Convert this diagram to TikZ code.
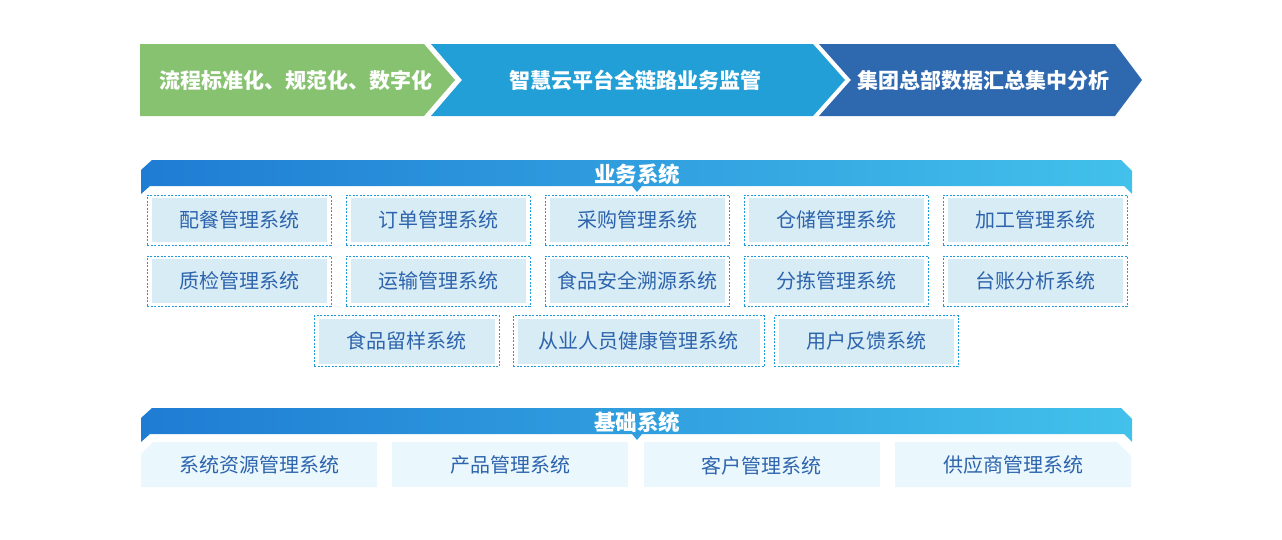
\documentclass[tikz,border=0pt]{standalone}
\usepackage{fontspec}
\newfontfamily\cjk{Noto Sans CJK SC}
\usetikzlibrary{positioning,shapes.misc}
\definecolor{flowgreen}{HTML}{87C271}
\definecolor{flowblue}{HTML}{239FD7}
\definecolor{flowdark}{HTML}{2E69B0}
\definecolor{bandleft}{HTML}{1F7CD3}
\definecolor{bandright}{HTML}{42C1EB}
\definecolor{dashblue}{HTML}{1F9BDB}
\definecolor{boxfill}{HTML}{D7ECF5}
\definecolor{basefill}{HTML}{EAF8FD}
\definecolor{sysblue}{HTML}{2D64AD}

\begin{document}
\begin{tikzpicture}[x=1pt, y=-1pt, node distance=14pt]
		 \tikzstyle{stage} = [font=\cjk\bfseries\fontsize{21}{21}\selectfont, text=white, inner sep=0pt];
		 \tikzstyle{bandtitle} = [font=\cjk\bfseries\fontsize{21.5}{21.5}\selectfont, text=white, inner sep=0pt];
		 \tikzstyle{sysbox} = [draw=dashblue, line width=1pt, dash pattern=on 2pt off 1.5pt,
		   minimum width=184pt, minimum height=50pt, inner sep=0pt,
		   path picture={\fill[boxfill] ([shift={(4.5pt,3pt)}]path picture bounding box.south west)
		     rectangle ([shift={(-4.5pt,-3pt)}]path picture bounding box.north east);},
		   font=\cjk\fontsize{20}{20}\selectfont, text=sysblue];
		 \tikzstyle{baseblock} = [fill=basefill, minimum width=236pt, minimum height=45pt, inner sep=0pt,
		   text depth=-3pt, font=\cjk\fontsize{20}{20}\selectfont, text=sysblue];

		 \useasboundingbox (0,0) rectangle (1282,539);

		 % flow chevrons
		 \fill [flowgreen] (140,44) -- (424,44) -- (455,80) -- (424,116) -- (140,116) -- cycle;
		 \fill [flowblue]  (431,44) -- (813,44) -- (845,80) -- (813,116) -- (431,116) -- (462,80) -- cycle;
		 \fill [flowdark]  (819,44) -- (1115,44) -- (1142,80) -- (1115,116) -- (819,116) -- (851,80) -- cycle;

		 \node [stage] (liucheng) at (296,80)  {流程标准化、规范化、数字化};
		 \node [stage] (zhihui)   at (635,80)  {智慧云平台全链路业务监管};
		 \node [stage] (jituan)   at (983,80)  {集团总部数据汇总集中分析};

		 % title bands
		 \foreach \yy in {0,248}
		   \shade [left color=bandleft, right color=bandright, shift={(0,\yy)}]
		     (152,160) -- (1121,160) -- (1132,171) -- (1132,194) -- (1124,186) -- (642,186) -- (637,192)
		     -- (632,186) -- (150,186) -- (141,194) -- (141,170) -- cycle;

		 \node [bandtitle] (yewu)  at (637,174) {业务系统};
		 \node [bandtitle] (jichu) at (637,422) {基础系统};

		 % business systems
		 \node [sysbox] (peican)                      at (239,220) {配餐管理系统};
		 \node [sysbox] (dingdan) [right=of peican]   {订单管理系统};
		 \node [sysbox] (caigou)  [right=of dingdan]  {采购管理系统};
		 \node [sysbox] (cangchu) [right=of caigou]   {仓储管理系统};
		 \node [sysbox] (jiagong) [right=of cangchu]  {加工管理系统};

		 \node [sysbox] (zhijian) [below=10pt of peican] {质检管理系统};
		 \node [sysbox] (yunshu)  [right=of zhijian]  {运输管理系统};
		 \node [sysbox] (suyuan)  [right=of yunshu]   {食品安全溯源系统};
		 \node [sysbox] (fenjian) [right=of suyuan]   {分拣管理系统};
		 \node [sysbox] (taizhang)[right=of fenjian]  {台账分析系统};

		 \node [sysbox, minimum width=251pt, minimum height=51pt] (congye) at (638.5,341) {从业人员健康管理系统};
		 \node [sysbox, minimum width=185pt, minimum height=51pt] (liuyang) [left=13pt of congye] {食品留样系统};
		 \node [sysbox, minimum height=51pt] (fankui) [right=9pt of congye] {用户反馈系统};

		 % base systems
		 \node [baseblock, chamfered rectangle, chamfered rectangle corners=north west,
		   chamfered rectangle sep=6pt] (ziyuan) at (259,464.5) {系统资源管理系统};
		 \node [baseblock] (chanpin) [right=15pt of ziyuan]  {产品管理系统};
		 \node [baseblock] (kehu)    [right=15pt of chanpin] {客户管理系统};
		 \node [baseblock, chamfered rectangle, chamfered rectangle corners=north east,
		   chamfered rectangle sep=7pt] (gongying) [right=15pt of kehu] {供应商管理系统};
	\end{tikzpicture}
\end{document}
